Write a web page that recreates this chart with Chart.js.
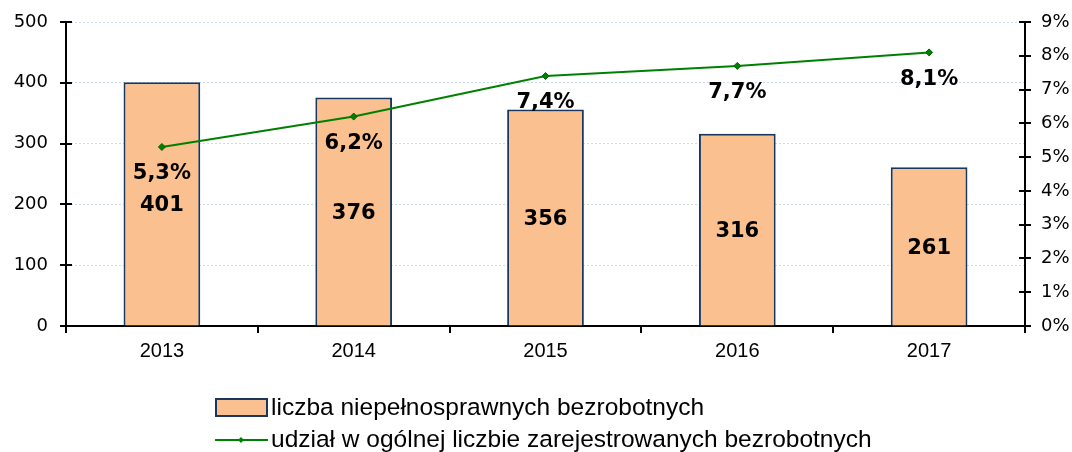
<!DOCTYPE html>
<html>
<head>
<meta charset="utf-8">
<script src="https://cdn.jsdelivr.net/npm/chart.js@4/dist/chart.umd.min.js"></script>
<style>
  body { margin: 0; background: #fff; }
</style>
</head>
<body>
<canvas id="chart" width="1072" height="452"></canvas>
<script>
const years = ['2013', '2014', '2015', '2016', '2017'];
const disabledUnemployed = [401, 376, 356, 316, 261];
const shareOfTotal = [5.3, 6.2, 7.4, 7.7, 8.1];
const leftTicks = { min: 0, max: 500, step: 100 };
const rightTicks = { min: 0, max: 9, step: 1 };

const barLabel = 'liczba niepełnosprawnych bezrobotnych';
const lineLabel = 'udział w ogólnej liczbie zarejestrowanych bezrobotnych';

const fmtPct = v => v.toFixed(1).replace('.', ',') + '%';

// value labels: bar numbers in the middle, percents under the points
const valueLabels = {
  id: 'valueLabels',
  afterDatasetsDraw(chart) {
    const ctx = chart.ctx;
    ctx.save();
    ctx.fillStyle = '#000';
    ctx.font = 'bold 21px "DejaVu Sans"';
    ctx.textAlign = 'center';
    ctx.textBaseline = 'middle';
    chart.getDatasetMeta(0).data.forEach((bar, i) => {
      ctx.fillText(String(disabledUnemployed[i]), bar.x, (bar.y + bar.base) / 2 + 2);
    });
    chart.getDatasetMeta(1).data.forEach((pt, i) => {
      ctx.fillText(fmtPct(shareOfTotal[i]), pt.x, pt.y + 27);
    });
    ctx.restore();
  }
};

// tick marks crossing both y axes
const crossTicks = {
  id: 'crossTicks',
  afterDraw(chart) {
    const ctx = chart.ctx;
    ctx.save();
    ctx.strokeStyle = '#000';
    ctx.lineWidth = 2;
    ['y', 'y1'].forEach(id => {
      const s = chart.scales[id];
      const x = id === 'y' ? s.right : s.left;
      s.ticks.forEach((t, i) => {
        const y = Math.round(s.getPixelForTick(i));
        ctx.beginPath();
        ctx.moveTo(x - 6, y);
        ctx.lineTo(x + 6, y);
        ctx.stroke();
      });
    });
    ctx.restore();
  }
};

// legend stacked in two rows under the axis
const stackedLegend = {
  id: 'stackedLegend',
  afterDraw(chart) {
    const ctx = chart.ctx;
    const bar = chart.data.datasets[0];
    const line = chart.data.datasets[1];
    const x = 215;
    ctx.save();
    ctx.font = '24.5px "Liberation Sans"';
    ctx.textBaseline = 'alphabetic';

    ctx.fillStyle = bar.backgroundColor;
    ctx.fillRect(x + 1, 399, 51, 17);
    ctx.strokeStyle = bar.borderColor;
    ctx.lineWidth = 2;
    ctx.strokeRect(x + 1, 399, 51, 17);
    ctx.fillStyle = '#000';
    ctx.fillText(bar.label, x + 56, 415);

    ctx.strokeStyle = line.borderColor;
    ctx.lineWidth = 2;
    ctx.beginPath();
    ctx.moveTo(x, 440);
    ctx.lineTo(x + 53, 440);
    ctx.stroke();
    ctx.fillStyle = line.borderColor;
    ctx.beginPath();
    ctx.moveTo(x + 26, 437);
    ctx.lineTo(x + 29, 440);
    ctx.lineTo(x + 26, 443);
    ctx.lineTo(x + 23, 440);
    ctx.closePath();
    ctx.fill();
    ctx.fillStyle = '#000';
    ctx.fillText(line.label, x + 56, 447);
    ctx.restore();
  }
};

new Chart(document.getElementById('chart'), {
  data: {
    labels: years,
    datasets: [
      {
        type: 'bar',
        label: barLabel,
        data: disabledUnemployed,
        yAxisID: 'y',
        backgroundColor: '#FAC090',
        borderColor: '#17375E',
        borderWidth: 2,
        barPercentage: 0.4,
        categoryPercentage: 1,
        order: 2
      },
      {
        type: 'line',
        label: lineLabel,
        data: shareOfTotal,
        yAxisID: 'y1',
        borderColor: '#008000',
        backgroundColor: '#008000',
        borderWidth: 2,
        pointStyle: 'rectRot',
        pointRadius: 3.5,
        pointBorderWidth: 1,
        pointBackgroundColor: '#008000',
        pointBorderColor: '#006400',
        tension: 0,
        order: 1
      }
    ]
  },
  options: {
    responsive: false,
    animation: false,
    layout: { padding: { top: 22, left: 0, right: 0, bottom: 0 } },
    plugins: {
      legend: { display: false },
      tooltip: { enabled: false }
    },
    scales: {
      x: {
        offset: true,
        grid: {
          offset: true,
          drawOnChartArea: false,
          color: '#000',
          lineWidth: 2,
          tickLength: 7
        },
        border: { color: '#000', width: 2 },
        ticks: {
          color: '#000',
          padding: 6,
          font: { family: '"Liberation Sans"', size: 20 }
        },
        afterFit: s => { s.height = 126; }
      },
      y: {
        position: 'left',
        min: leftTicks.min,
        max: leftTicks.max,
        ticks: {
          stepSize: leftTicks.step,
          color: '#000',
          padding: 0,
          font: { family: '"DejaVu Sans"', size: 18 }
        },
        grid: {
          color: '#c9d9ee',
          lineWidth: 1,
          drawTicks: true,
          tickLength: 18,
          tickColor: 'rgba(0,0,0,0)'
        },
        border: { color: '#000', width: 2, dash: [2, 2] },
        afterFit: s => { s.width = 66; }
      },
      y1: {
        position: 'right',
        min: rightTicks.min,
        max: rightTicks.max,
        ticks: {
          stepSize: rightTicks.step,
          color: '#000',
          padding: 0,
          font: { family: '"DejaVu Sans"', size: 18 },
          callback: v => v + '%'
        },
        grid: {
          drawOnChartArea: false,
          drawTicks: true,
          tickLength: 16,
          tickColor: 'rgba(0,0,0,0)'
        },
        border: { color: '#000', width: 2 },
        afterFit: s => { s.width = 47; }
      }
    }
  },
  plugins: [valueLabels, crossTicks, stackedLegend]
});
</script>
</body>
</html>
